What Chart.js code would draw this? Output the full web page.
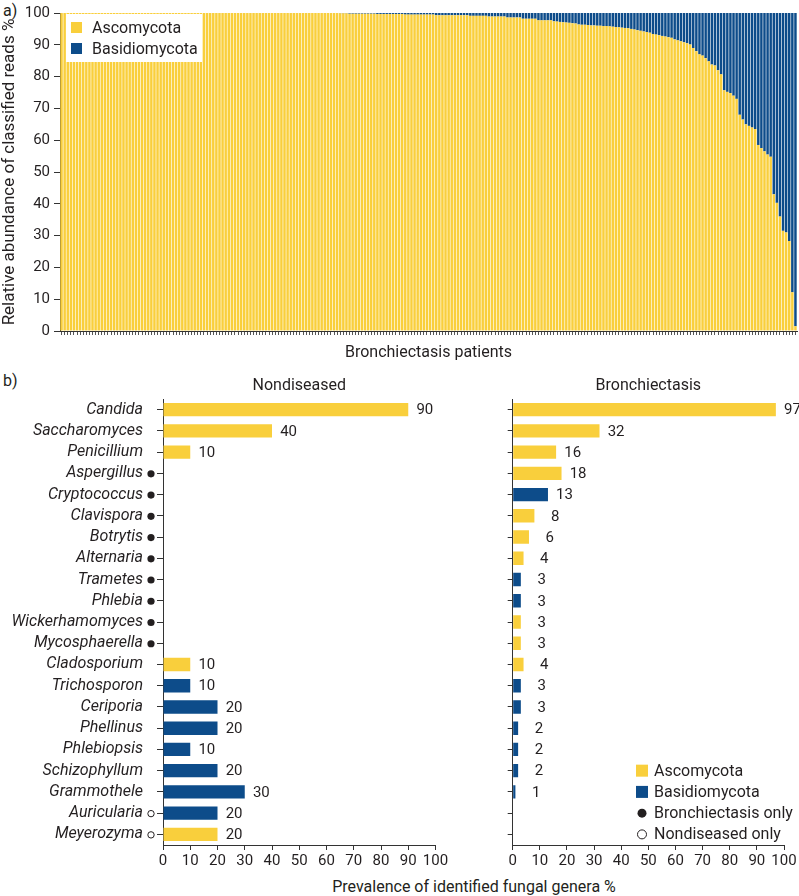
<!DOCTYPE html>
<html><head><meta charset="utf-8">
<script src="https://cdn.jsdelivr.net/npm/chart.js@4.4.1/dist/chart.umd.min.js"></script>
<style>
html,body{margin:0;padding:0;background:#fff;width:799px;height:896px;overflow:hidden;font-family:Roboto,sans-serif;color:#231f20}
canvas{position:absolute}
#c1{left:0;top:0}
#c2{left:0;top:360px}
#c3{left:460px;top:360px}
.lbl{position:absolute;font-size:16px;line-height:18px;white-space:nowrap}
</style></head><body>
<div class="lbl" style="left:3px;top:2px">a)</div>
<div class="lbl" style="left:3px;top:372px">b)</div>
<div class="lbl" style="left:474px;top:878px;transform:translateX(-50%)">Prevalence of identified fungal genera %</div>
<canvas id="c1" width="799" height="370"></canvas>
<canvas id="c2" width="460" height="536"></canvas>
<canvas id="c3" width="339" height="536"></canvas>
<script>
// ---------- Panel a) data : relative abundance per patient (%) ----------
const ascomycota = [
100,100,100,100,100,100,100,100,100,100,
100,100,100,100,100,100,100,100,100,100,
100,100,100,100,100,100,100,100,100,100,
100,100,100,100,100,100,100,100,100,100,
100,100,100,100,100,100,100,100,100,100,
100,100,100,100,100,100,100,100,100,100,
100,100,100,100,100,100,100,100,100,100,
100,100,100,100,100,100,100,100,100,100,
100,100,100,100,100,100,100,100,100,100,
99.9,99.9,99.9,
99.8,99.8,99.8,99.8,99.8,99.8,99.8,99.8,99.8,
99.7,99.7,99.7,99.7,99.7,99.7,99.7,99.7,99.7,
99.5,99.5,99.5,99.5,99.5,99.5,99.5,99.5,99.5,99.5,
99.3,99.3,99.3,99.3,99.3,99.3,99.3,99.3,99.3,99.3,99.3,
99.1,99.1,99.1,99.1,99.1,99.1,
98.9,98.9,98.9,98.9,98.9,98.9,
98.6,98.6,98.6,98.6,98.6,
98.2,98.2,98.2,98.2,98.2,
97.7,97.7,97.7,97.7,97.7,
97.4,97.3,97.2,97.1,97.0,96.9,96.8,96.7,
96.4,96.3,96.3,96.2,96.1,96.1,96.0,96.0,95.9,95.9,
95.8,95.7,95.6,95.5,95.4,95.3,95.2,95.0,
94.8,94.6,94.4,94.2,94.0,93.8,93.4,
93.2,93.0,92.8,92.6,92.4,92.2,
91.7,91.4,91.1,90.8,90.5,
90.1,89.0,88.0,87.0,
86.6,85.8,84.8,83.8,
83.5,82.0,80.7,
75.7,75.2,74.8,
74.0,73.0,
68.0,66.5,
65.0,64.5,64.0,63.5,
58.5,57.5,56.5,55.5,
54.8,43.0,40.3,36.0,31.5,31.0,28.3,12.2,1.5
];
const basidiomycota = [
0,0,0,0,0,0,0,0,0,0,
0,0,0,0,0,0,0,0,0,0,
0,0,0,0,0,0,0,0,0,0,
0,0,0,0,0,0,0,0,0,0,
0,0,0,0,0,0,0,0,0,0,
0,0,0,0,0,0,0,0,0,0,
0,0,0,0,0,0,0,0,0,0,
0,0,0,0,0,0,0,0,0,0,
0,0,0,0,0,0,0,0,0,0,
0.1,0.1,0.1,
0.2,0.2,0.2,0.2,0.2,0.2,0.2,0.2,0.2,
0.3,0.3,0.3,0.3,0.3,0.3,0.3,0.3,0.3,
0.5,0.5,0.5,0.5,0.5,0.5,0.5,0.5,0.5,0.5,
0.7,0.7,0.7,0.7,0.7,0.7,0.7,0.7,0.7,0.7,0.7,
0.9,0.9,0.9,0.9,0.9,0.9,
1.1,1.1,1.1,1.1,1.1,1.1,
1.4,1.4,1.4,1.4,1.4,
1.8,1.8,1.8,1.8,1.8,
2.3,2.3,2.3,2.3,2.3,
2.6,2.7,2.8,2.9,3.0,3.1,3.2,3.3,
3.6,3.7,3.7,3.8,3.9,3.9,4.0,4.0,4.1,4.1,
4.2,4.3,4.4,4.5,4.6,4.7,4.8,5.0,
5.2,5.4,5.6,5.8,6.0,6.2,6.6,
6.8,7.0,7.2,7.4,7.6,7.8,
8.3,8.6,8.9,9.2,9.5,
9.9,11.0,12.0,13.0,
13.4,14.2,15.2,16.2,
16.5,18.0,19.3,
24.3,24.8,25.2,
26.0,27.0,
32.0,33.5,
35.0,35.5,36.0,36.5,
41.5,42.5,43.5,44.5,
45.2,57.0,59.7,64.0,68.5,69.0,71.7,87.8,98.5
];
const patients = ascomycota.map((v, i) => 'P' + (i + 1));
const yTicksA = [0,10,20,30,40,50,60,70,80,90,100];

// ---------- Panel b) data : prevalence of identified genera (%) ----------
const genera = ['Candida','Saccharomyces','Penicillium','Aspergillus','Cryptococcus','Clavispora','Botrytis','Alternaria','Trametes','Phlebia','Wickerhamomyces','Mycosphaerella','Cladosporium','Trichosporon','Ceriporia','Phellinus','Phlebiopsis','Schizophyllum','Grammothele','Auricularia','Meyerozyma'];
const phylum = ['Ascomycota','Ascomycota','Ascomycota','Ascomycota','Basidiomycota','Ascomycota','Ascomycota','Ascomycota','Basidiomycota','Basidiomycota','Ascomycota','Ascomycota','Ascomycota','Basidiomycota','Basidiomycota','Basidiomycota','Basidiomycota','Basidiomycota','Basidiomycota','Basidiomycota','Ascomycota'];
const nondiseased = [90,40,10,null,null,null,null,null,null,null,null,null,10,10,20,20,10,20,30,20,20];
const bronchiectasis = [97,32,16,18,13,8,6,4,3,3,3,3,4,3,3,2,2,2,1,null,null];
const xTicksB = [0,10,20,30,40,50,60,70,80,90,100];

const YEL = '#f9cf3c', BLU = '#0d4c8a', TXT = '#231f20', AX = '#333333';
const FONT = 'Roboto, sans-serif';
Chart.defaults.font.family = FONT;
Chart.defaults.color = TXT;
const phylumColor = {Ascomycota: YEL, Basidiomycota: BLU};

// ---------- Panel a) ----------
const legendA = {
  id: 'legendA',
  afterDraw(chart) {
    const ctx = chart.ctx; ctx.save();
    ctx.fillStyle = '#fff'; ctx.fillRect(66, 14, 136, 48);
    ctx.font = '16px ' + FONT; ctx.textBaseline = 'middle'; ctx.textAlign = 'left';
    chart.data.datasets.forEach((ds, k) => {
      const y = 27.5 + k * 21;
      ctx.fillStyle = ds.backgroundColor; ctx.fillRect(71, y - 5.5, 11, 11);
      ctx.fillStyle = TXT; ctx.fillText(ds.label, 92, y + 1);
    });
    ctx.restore();
  }
};
new Chart(document.getElementById('c1'), {
  type: 'bar',
  data: { labels: patients, datasets: [
    { label: 'Ascomycota', data: ascomycota, backgroundColor: YEL, barPercentage: 0.8, categoryPercentage: 1 },
    { label: 'Basidiomycota', data: basidiomycota, backgroundColor: BLU, barPercentage: 0.8, categoryPercentage: 1 }
  ]},
  options: {
    responsive: false, animation: false,
    layout: { padding: { top: 10, right: 2, left: 0, bottom: 0 } },
    plugins: { legend: { display: false }, tooltip: { enabled: false } },
    scales: {
      x: { stacked: true,
        grid: { drawOnChartArea: false, tickLength: 4, color: '#555', offset: false },
        border: { display: true, color: AX },
        ticks: { display: false },
        title: { display: true, text: 'Bronchiectasis patients', font: { size: 16 }, color: TXT, padding: { top: 0, bottom: 7 } },
        afterFit(s) { s.height = 39; } },
      y: { stacked: true, min: 0, max: 100,
        afterBuildTicks(s) { s.ticks = yTicksA.map(v => ({ value: v })); },
        ticks: { font: { size: 15 }, color: TXT, padding: 4 },
        grid: { drawOnChartArea: false, tickLength: 6, color: AX },
        border: { display: true, color: AX },
        title: { display: true, text: 'Relative abundance of classified reads %', font: { size: 17 }, color: TXT, padding: { top: 0, bottom: 0 } },
        afterFit(s) { s.width = 60; } }
    }
  },
  plugins: [legendA]
});

// ---------- Panel b) ----------
const valueLabels = {
  id: 'valueLabels',
  afterDatasetsDraw(chart) {
    const ctx = chart.ctx; const meta = chart.getDatasetMeta(0); const data = chart.data.datasets[0].data;
    ctx.save(); ctx.font = '15px ' + FONT; ctx.fillStyle = TXT; ctx.textAlign = 'right'; ctx.textBaseline = 'middle';
    meta.data.forEach((bar, i) => { const v = data[i]; if (v == null) return; ctx.fillText(String(v), bar.x + 25, bar.y + 1); });
    ctx.restore();
  }
};
const panelTitle = {
  id: 'panelTitle',
  afterDraw(chart, args, opts) {
    const ctx = chart.ctx, a = chart.chartArea; ctx.save();
    ctx.font = '16px ' + FONT; ctx.fillStyle = TXT; ctx.textAlign = 'center'; ctx.textBaseline = 'middle';
    ctx.fillText(opts.text, (a.left + a.right) / 2, 26);
    ctx.restore();
  }
};
const onlyMarkers = {
  id: 'onlyMarkers',
  afterDraw(chart) {
    const ctx = chart.ctx, ys = chart.scales.y; ctx.save();
    genera.forEach((g, i) => {
      const y = ys.getPixelForValue(i) + 0.5;
      const bOnly = nondiseased[i] == null && bronchiectasis[i] != null;
      const nOnly = bronchiectasis[i] == null && nondiseased[i] != null;
      if (!bOnly && !nOnly) return;
      ctx.beginPath(); ctx.arc(151, y, bOnly ? 3.6 : 3.2, 0, Math.PI * 2);
      if (bOnly) { ctx.fillStyle = TXT; ctx.fill(); } else { ctx.strokeStyle = TXT; ctx.lineWidth = 1; ctx.stroke(); }
    });
    ctx.restore();
  }
};
const legendB = {
  id: 'legendB',
  afterDraw(chart) {
    const ctx = chart.ctx, ys = chart.scales.y; ctx.save();
    ctx.font = '16px ' + FONT; ctx.textBaseline = 'middle'; ctx.textAlign = 'left';
    const items = [
      { label: 'Ascomycota', kind: 'box', color: YEL },
      { label: 'Basidiomycota', kind: 'box', color: BLU },
      { label: 'Bronchiectasis only', kind: 'dot' },
      { label: 'Nondiseased only', kind: 'ring' }
    ];
    items.forEach((it, k) => {
      const y = ys.getPixelForValue(17 + k);
      if (it.kind === 'box') { ctx.fillStyle = it.color; ctx.fillRect(176, y - 6, 12, 12); }
      else { ctx.beginPath(); ctx.arc(182, y, 4.5, 0, Math.PI * 2);
        if (it.kind === 'dot') { ctx.fillStyle = TXT; ctx.fill(); } else { ctx.strokeStyle = TXT; ctx.lineWidth = 1; ctx.stroke(); } }
      ctx.fillStyle = TXT; ctx.fillText(it.label, 194, y + 1);
    });
    ctx.restore();
  }
};
function panelConfig(values, title, showLabels, extraPlugins, yWidth, padRight) {
  return {
    type: 'bar',
    data: { labels: genera, datasets: [{ label: title, data: values,
      backgroundColor: phylum.map(p => phylumColor[p]), barPercentage: 0.63, categoryPercentage: 1 }] },
    options: {
      indexAxis: 'y', responsive: false, animation: false,
      layout: { padding: { top: 39, right: padRight, left: 0, bottom: 0 } },
      plugins: { legend: { display: false }, tooltip: { enabled: false }, panelTitle: { text: title } },
      scales: {
        x: { min: 0, max: 100,
          afterBuildTicks(s) { s.ticks = xTicksB.map(v => ({ value: v })); },
          ticks: { font: { size: 15 }, color: TXT, padding: 2, maxRotation: 0, autoSkip: false },
          grid: { drawOnChartArea: false, tickLength: 5, color: AX },
          border: { display: true, color: AX },
          afterFit(s) { s.height = 51; } },
        y: {
          ticks: { display: showLabels, font: { size: 16, style: 'italic' }, color: TXT, padding: 14, autoSkip: false },
          grid: { drawOnChartArea: false, tickLength: showLabels ? 6 : 5, color: AX, offset: false },
          border: { display: true, color: AX },
          afterFit(s) { s.width = yWidth; } }
      }
    },
    plugins: [valueLabels, panelTitle].concat(extraPlugins)
  };
}
new Chart(document.getElementById('c2'), panelConfig(nondiseased, 'Nondiseased', true, [onlyMarkers], 163, 24.5));
new Chart(document.getElementById('c3'), panelConfig(bronchiectasis, 'Bronchiectasis', false, [legendB], 52.7, 15));
</script>
</body></html>
